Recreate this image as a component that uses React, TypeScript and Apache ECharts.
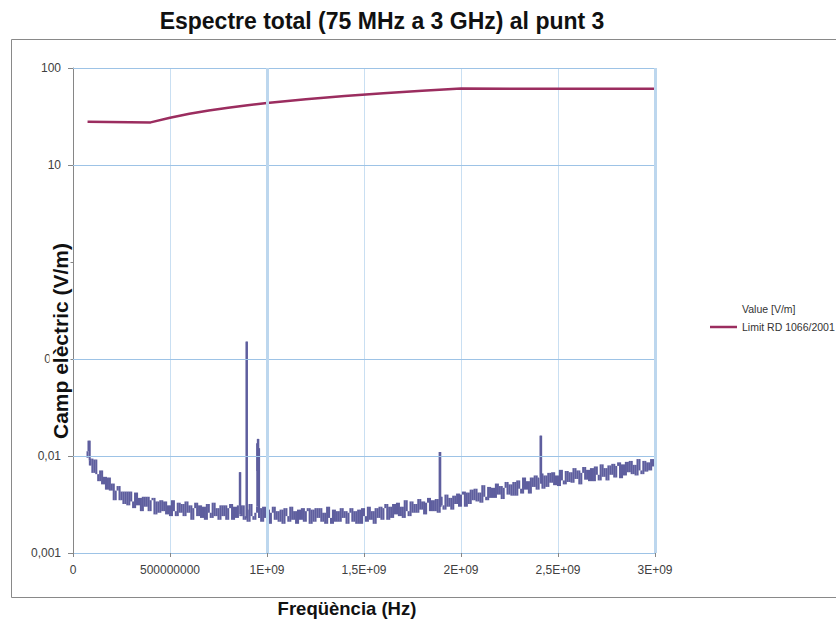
import React, { useEffect, useRef } from "react";
import * as echarts from "echarts";

const TITLE = "Espectre total (75 MHz a 3 GHz) al punt 3";
const X_TITLE = "Freqüència (Hz)";
const Y_TITLE = "Camp elèctric (V/m)";
const VALUE_NAME = "Value [V/m]";
const LIMIT_NAME = "Limit RD 1066/2001";

const X_TICK_LABELS = ["0", "500000000", "1E+09", "1,5E+09", "2E+09", "2,5E+09", "3E+09"];
const Y_TICK_LABELS = ["0,001", "0,01", "0,1", "", "10", "100"];

// Measured spectrum, sweep from 80 MHz to 3000 MHz every 10 MHz, values in mV/m
const VALUE_START_MHZ = 80;
const VALUE_STEP_MHZ = 10;
const VALUE_MVM = [
  11.2, 8.0, 9.4, 6.7, 9.2, 6.5, 5.5, 7.1, 5.1, 6.1,
  4.5, 6.0, 4.4, 5.2, 3.5, 4.4, 4.9, 3.5, 4.3, 3.2,
  4.3, 3.1, 4.3, 3.4, 2.9, 4.2, 3.1, 3.7, 2.7, 3.8,
  3.0, 3.8, 2.7, 3.5, 3.7, 2.5, 3.4, 2.6, 3.5, 2.7,
  3.4, 2.5, 3.1, 2.4, 3.5, 2.7, 2.4, 3.3, 2.6, 3.2,
  2.4, 3.4, 2.6, 3.1, 2.2, 2.9, 3.3, 2.4, 3.1, 2.3,
  3.0, 2.2, 3.2, 2.6, 2.3, 3.3, 2.4, 2.9, 2.2, 3.1,
  2.4, 3.1, 2.2, 2.9, 3.2, 2.2, 3.0, 2.3, 3.1, 2.4,
  3.1, 2.2, 2.8, 2.1, 3.2, 2.4, 2.2, 3.0, 2.3, 2.9,
  2.1, 3.0, 2.3, 2.8, 2.0, 2.6, 3.0, 2.2, 2.7, 2.1,
  2.8, 2.0, 2.9, 2.4, 2.1, 3.0, 2.2, 2.7, 2.0, 2.8,
  2.2, 2.9, 2.1, 2.7, 2.9, 2.0, 2.8, 2.1, 2.9, 2.3,
  2.9, 2.1, 2.6, 2.0, 3.0, 2.3, 2.0, 2.8, 2.1, 2.7,
  2.1, 2.9, 2.3, 2.7, 2.0, 2.6, 2.9, 2.1, 2.7, 2.0,
  2.8, 2.0, 2.9, 2.4, 2.1, 3.0, 2.2, 2.7, 2.0, 2.9,
  2.3, 3.0, 2.2, 2.9, 3.2, 2.2, 3.0, 2.3, 3.2, 2.5,
  3.3, 2.4, 3.0, 2.3, 3.5, 2.7, 2.4, 3.4, 2.6, 3.2,
  2.6, 3.6, 2.8, 3.4, 2.5, 3.3, 3.7, 2.7, 3.5, 2.7,
  3.6, 2.6, 3.8, 3.1, 2.8, 4.0, 3.0, 3.7, 2.8, 3.9,
  3.2, 4.1, 3.0, 4.0, 4.3, 3.0, 4.2, 3.2, 4.5, 3.5,
  4.6, 3.4, 4.2, 3.3, 5.0, 3.8, 3.5, 4.8, 3.7, 4.7,
  3.7, 5.2, 4.0, 4.9, 3.6, 4.7, 5.4, 4.0, 5.1, 3.9,
  5.4, 3.9, 5.6, 4.6, 4.1, 6.0, 4.5, 5.5, 4.1, 6.0,
  4.8, 6.3, 4.5, 6.0, 6.6, 4.6, 6.3, 4.8, 6.7, 5.3,
  6.8, 5.0, 6.3, 4.9, 7.2, 5.6, 5.1, 7.0, 5.4, 6.8,
  5.3, 7.5, 5.8, 7.1, 5.1, 6.7, 7.7, 5.7, 7.2, 5.5,
  7.5, 5.5, 7.8, 6.4, 5.6, 8.2, 6.1, 7.5, 5.6, 8.0,
  6.4, 8.3, 6.0, 7.9, 8.6, 5.9, 8.2, 6.3, 8.7, 6.8,
  8.9, 6.5, 8.1, 6.3, 9.3, 7.1, 6.5, 8.9, 6.9, 8.6,
  7.1, 9.3, 7.8,
];

// Start of sweep and narrow emissions (spikes), MHz and mV/m
const EXTRA_FREQ_MHZ = [75, 86, 87, 862, 863, 895, 896, 897, 949, 951, 953, 955, 957, 959, 961, 1893, 1894, 2413, 2414];
const EXTRA_MVM = [9.6, 14.4, 9.0, 6.8, 2.5, 2.4, 151, 2.3, 2.6, 13.5, 7.0, 15.0, 8.0, 12.0, 2.5, 11.0, 3.0, 16.2, 5.2];

// Reference level of RD 1066/2001
const LIMIT_FREQ_MHZ = [75, 400, 500, 600, 700, 800, 900, 1000, 1200, 1400, 1600, 1800, 2000, 2500, 3000];
const LIMIT_VM = [28, 27.5, 30.7, 33.7, 36.4, 38.9, 41.3, 43.5, 47.6, 51.4, 55.0, 58.3, 61.5, 61.0, 61.0];

const GRID_Y_VALUES = [0.01, 0.1, 10, 100];
const STRONG_X_VALUES = [1e9, 3e9];

const FONT = "'Liberation Sans', Arial, sans-serif";
const VALUE_COLOR = "#5e5e9e";

export default function App() {
  const ref = useRef<HTMLDivElement>(null);

  useEffect(() => {
    if (!ref.current) return;
    const chart = echarts.init(ref.current, null, { renderer: "svg" });

    const valuePoints: [number, number][] = [];
    VALUE_MVM.forEach((v, i) => {
      valuePoints.push([(VALUE_START_MHZ + i * VALUE_STEP_MHZ) * 1e6, v / 1000]);
    });
    EXTRA_FREQ_MHZ.forEach((f, i) => valuePoints.push([f * 1e6, EXTRA_MVM[i] / 1000]));
    valuePoints.sort((a, b) => a[0] - b[0]);

    // each sweep step drawn as a vertical stroke from one reading to the next
    const strokes = valuePoints.map((p, i) => {
      const next = valuePoints[Math.min(i + 1, valuePoints.length - 1)];
      return [p[0], p[1], next[1]];
    });

    const limitPoints = LIMIT_FREQ_MHZ.map((f, i) => [f * 1e6, LIMIT_VM[i]]);

    chart.setOption({
      animation: false,
      backgroundColor: "#ffffff",
      grid: { left: 73, right: 181, top: 68, bottom: 67, containLabel: false },
      legend: {
        orient: "vertical",
        left: 705,
        top: 297,
        icon: "rect",
        itemWidth: 27,
        itemHeight: 2.5,
        itemGap: 4,
        textStyle: { fontSize: 10.5, color: "#333333", fontFamily: FONT, lineHeight: 14 },
        data: [
          { name: VALUE_NAME, itemStyle: { opacity: 0 } },
          { name: LIMIT_NAME, itemStyle: { color: "#9b2d5f" } },
        ],
      },
      xAxis: {
        type: "value",
        min: 0,
        max: 3e9,
        interval: 5e8,
        axisLine: { show: true, lineStyle: { color: "#9dc3e6", width: 1 } },
        axisTick: { show: true, length: 4, lineStyle: { color: "#868686" } },
        axisLabel: {
          margin: 11,
          fontSize: 12,
          color: "#404040",
          fontFamily: FONT,
          formatter: (v: number) => X_TICK_LABELS[Math.round(v / 5e8)] ?? "",
        },
        splitLine: { show: true, lineStyle: { color: "#c9dff2", width: 1 } },
      },
      yAxis: {
        type: "log",
        logBase: 10,
        min: 0.001,
        max: 100,
        axisLine: { show: true, lineStyle: { color: "#868686", width: 1 } },
        axisTick: { show: true, length: 5, lineStyle: { color: "#868686" } },
        axisLabel: {
          margin: 12,
          fontSize: 12,
          color: "#404040",
          fontFamily: FONT,
          formatter: (v: number) => Y_TICK_LABELS[Math.round(Math.log10(v)) + 3] ?? "",
        },
        splitLine: { show: false },
      },
      series: [
        {
          name: "grid",
          type: "line",
          data: [],
          z: 1,
          silent: true,
          markLine: {
            silent: true,
            symbol: "none",
            label: { show: false },
            animation: false,
            data: [
              ...GRID_Y_VALUES.map((y) => ({ yAxis: y, lineStyle: { color: "#9dc3e6", width: 1, type: "solid" } })),
              ...STRONG_X_VALUES.map((x) => ({ xAxis: x, lineStyle: { color: "#bdd7ee", width: 3, type: "solid" } })),
            ],
          },
        },
        {
          name: VALUE_NAME,
          type: "custom",
          data: strokes,
          z: 3,
          silent: true,
          clip: true,
          encode: { x: 0, y: [1, 2] },
          itemStyle: { color: VALUE_COLOR },
          renderItem: (params: any, api: any) => {
            const a = api.coord([api.value(0), api.value(1)]);
            const b = api.coord([api.value(0), api.value(2)]);
            return {
              type: "line",
              shape: { x1: a[0], y1: a[1], x2: b[0], y2: b[1] },
              style: { stroke: VALUE_COLOR, lineWidth: 2.1 },
            };
          },
        },
        {
          name: LIMIT_NAME,
          type: "line",
          data: limitPoints,
          symbol: "none",
          showSymbol: false,
          z: 4,
          lineStyle: { color: "#9b2d5f", width: 2.5 },
          itemStyle: { color: "#9b2d5f" },
        },
      ],
      graphic: [
        { type: "line", z: 100, shape: { x1: 11.5, y1: 39.5, x2: 836, y2: 39.5 }, style: { stroke: "#898989", lineWidth: 1 } },
        { type: "line", z: 100, shape: { x1: 11.5, y1: 39.5, x2: 11.5, y2: 597.5 }, style: { stroke: "#898989", lineWidth: 1 } },
        { type: "line", z: 100, shape: { x1: 11.5, y1: 597.5, x2: 836, y2: 597.5 }, style: { stroke: "#898989", lineWidth: 1 } },
        {
          type: "text",
          z: 100,
          x: 382,
          y: 21,
          style: {
            text: TITLE,
            font: `bold 23px ${FONT}`,
            fill: "#111111",
            textAlign: "center",
            textVerticalAlign: "middle",
          },
        },
        {
          type: "text",
          z: 100,
          x: 347,
          y: 608,
          style: {
            text: X_TITLE,
            font: `bold 18.5px ${FONT}`,
            fill: "#111111",
            textAlign: "center",
            textVerticalAlign: "middle",
          },
        },
        {
          type: "text",
          z: 100,
          x: 60,
          y: 341,
          rotation: Math.PI / 2,
          style: {
            text: Y_TITLE,
            font: `bold 21px ${FONT}`,
            fill: "#111111",
            textAlign: "center",
            textVerticalAlign: "middle",
            backgroundColor: "#ffffff",
            lineHeight: 21,
          },
        },
      ],
    });

    return () => chart.dispose();
  }, []);

  return <div ref={ref} style={{ position: "fixed", left: 0, top: 0, width: 836, height: 620 }} />;
}
